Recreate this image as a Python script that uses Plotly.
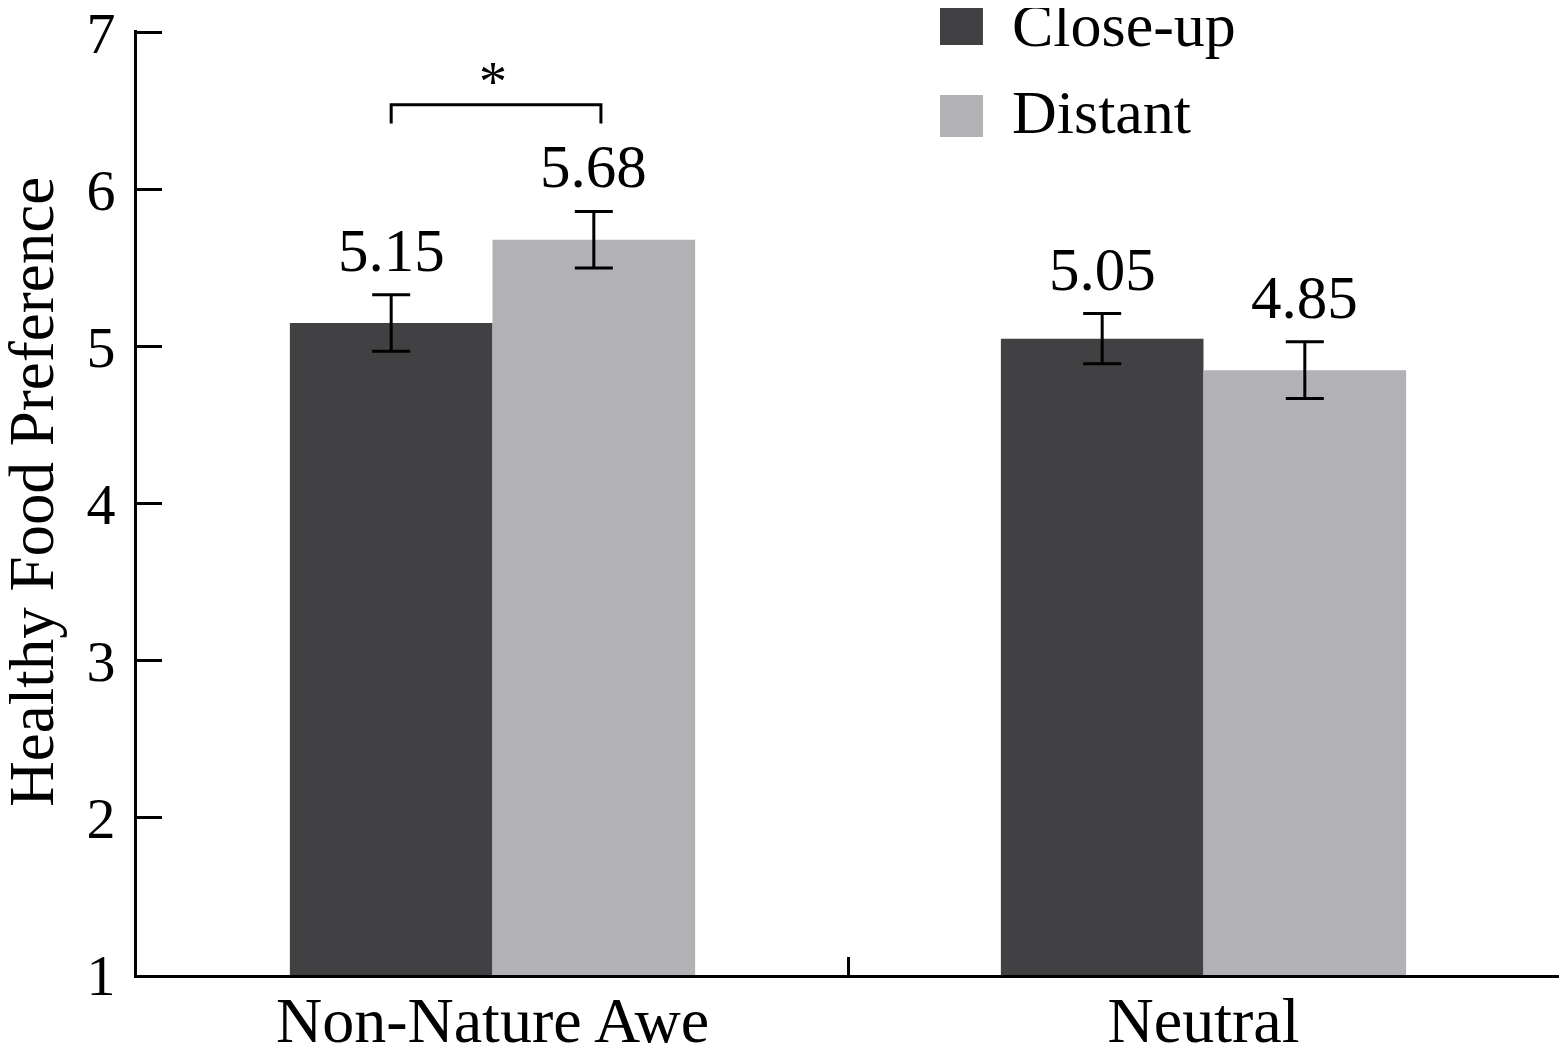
import plotly.graph_objects as go

# data
categories = ["Non-Nature Awe", "Neutral"]
series_names = ["Close-up", "Distant"]
closeup_means = [5.15, 5.05]
distant_means = [5.68, 4.85]
closeup_err = [0.18, 0.16]
distant_err = [0.18, 0.18]
y_ticks = [1, 2, 3, 4, 5, 6, 7]
y_title = "Healthy Food Preference"

dark = "#414042"
light = "#b2b1b5"
font_family = "Liberation Serif, Times New Roman, serif"

bargap = 0.43
half = (1 - bargap) / 4  # offset of each bar centre from the category centre

fig = go.Figure()
fig.add_trace(go.Bar(
    x=categories, y=closeup_means, name=series_names[0],
    marker=dict(color=dark, line=dict(width=0)),
    error_y=dict(type="data", array=closeup_err, color="black", thickness=3, width=19),
))
fig.add_trace(go.Bar(
    x=categories, y=distant_means, name=series_names[1],
    marker=dict(color=light, line=dict(width=0)),
    error_y=dict(type="data", array=distant_err, color="black", thickness=3, width=19),
))

# value labels above error bars
for i in range(len(categories)):
    for off, m, e in [(-half, closeup_means[i], closeup_err[i]),
                      (half, distant_means[i], distant_err[i])]:
        fig.add_annotation(x=i + off, y=m + e, text=f"{m:.2f}", showarrow=False,
                           yanchor="bottom", yshift=9,
                           font=dict(size=61, color="black", family=font_family))

# significance bracket
br_top = max(closeup_means[0] + closeup_err[0], distant_means[0] + distant_err[0]) + 0.68
br_drop = 0.12
fig.add_shape(type="path", xref="x", yref="y",
              path=f"M {-half},{br_top - br_drop} L {-half},{br_top} L {half + 0.01},{br_top} L {half + 0.01},{br_top - br_drop}",
              line=dict(color="black", width=3))
fig.add_annotation(x=0, y=br_top, text="*", showarrow=False, yanchor="bottom", yshift=-10,
                   font=dict(size=56, color="black", family=font_family))

# manual legend with big squares
sq_top = [1.0265, 0.9312]
sq_bot = [0.9841, 0.8868]
txt_y = [1.0053, 0.9132]
for k, (name, col) in enumerate(zip(series_names, [dark, light])):
    fig.add_shape(type="rect", xref="paper", yref="paper",
                  x0=0.5647, x1=0.5949, y0=sq_bot[k], y1=sq_top[k],
                  fillcolor=col, line=dict(width=0))
    fig.add_annotation(xref="paper", yref="paper", x=0.6139, y=txt_y[k],
                       text=name, showarrow=False, xanchor="left", yanchor="middle",
                       font=dict(size=62, color="black", family=font_family))

# y-axis title as rotated annotation
fig.add_annotation(xref="paper", yref="paper", x=-0.0735, y=0.512, text=y_title,
                   textangle=-90, showarrow=False, xanchor="center", yanchor="middle",
                   font=dict(size=63, color="black", family=font_family))

fig.update_layout(
    width=1551, height=1040,
    margin=dict(l=129, r=0, t=22, b=73),
    paper_bgcolor="white", plot_bgcolor="white",
    barmode="group", bargap=bargap, bargroupgap=0,
    showlegend=False,
    font=dict(family=font_family, color="black"),
)
fig.update_xaxes(
    automargin=False,
    showline=True, linecolor="black", linewidth=3,
    ticks="inside", ticklen=18, tickwidth=3, tickcolor="black",
    tickson="boundaries", range=[-0.5, 1.5],
    tickfont=dict(size=64, family=font_family),
    ticklabelstandoff=-13,
    showgrid=False, zeroline=False,
)
fig.update_yaxes(
    automargin=False,
    range=[1, 7.015], tickvals=y_ticks,
    showline=True, linecolor="black", linewidth=3,
    ticks="inside", ticklen=25, tickwidth=3, tickcolor="black",
    tickfont=dict(size=58, family=font_family),
    ticklabelstandoff=7, ticklabeloverflow="allow",
    showgrid=False, zeroline=False,
)

fig.write_html("out.html")
